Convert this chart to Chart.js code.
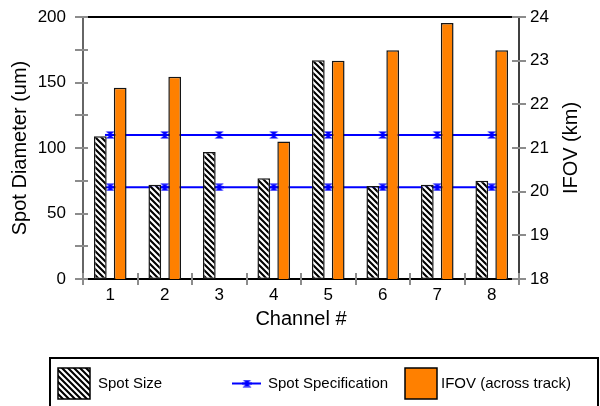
<!DOCTYPE html>
<html>
<head>
<meta charset="utf-8">
<script src="https://cdn.jsdelivr.net/npm/chart.js@4/dist/chart.umd.min.js"></script>
<style>
  html, body { margin: 0; padding: 0; background: #fff; }
  #c { display: block; }
</style>
</head>
<body>
<canvas id="c" width="600" height="406"></canvas>
<script>
// Channel numbers on the x axis
const channels = ['1', '2', '3', '4', '5', '6', '7', '8'];
// Measured spot diameter per channel (um, left axis)
const spotSize = [109, 72, 97, 77, 167, 71, 72, 75];
// Across-track IFOV per channel (km, right axis); channel 3 has no value
const ifov = [22.38, 22.63, null, 21.15, 23.0, 23.24, 23.86, 23.24];
// Spot specification limits (um)
const specUpper = [110, 110, 110, 110, 110, 110, 110, 110];
const specLower = [70, 70, 70, 70, 70, 70, 70, 70];
// Axis ranges
const diameterRange = [0, 200];
const ifovRange = [18, 24];

const FONT = '"Liberation Sans", Arial, sans-serif';
const BLUE = '#0000ff';
const ORANGE = '#ff8000';

// Diagonal black/white hatch used for the spot size bars
function makeHatch() {
  const s = 6;
  const c = document.createElement('canvas');
  c.width = s; c.height = s;
  const g = c.getContext('2d');
  g.fillStyle = '#fff';
  g.fillRect(0, 0, s, s);
  g.strokeStyle = '#000';
  g.lineWidth = 2.1;
  g.beginPath();
  for (const o of [-s, 0, s]) {
    g.moveTo(o - 1, -1);
    g.lineTo(o + s + 1, s + 1);
  }
  g.stroke();
  return g.createPattern(c, 'repeat');
}

// Hourglass marker for the specification lines
function makeBowtie() {
  const c = document.createElement('canvas');
  c.width = 10; c.height = 8;
  const g = c.getContext('2d');
  g.fillStyle = BLUE;
  g.beginPath(); g.moveTo(0.5, 0.5); g.lineTo(9.5, 0.5); g.lineTo(5, 4); g.closePath(); g.fill();
  g.beginPath(); g.moveTo(0.5, 7.5); g.lineTo(9.5, 7.5); g.lineTo(5, 4); g.closePath(); g.fill();
  g.fillRect(0, 3, 10, 2);
  return c;
}

const hatch = makeHatch();
const bowtie = makeBowtie();

const barCommon = {
  type: 'bar',
  borderColor: '#151515',
  borderWidth: 1.5,
  borderSkipped: false,
  categoryPercentage: 0.73,
  barPercentage: 0.64,
  order: 1
};
const lineCommon = {
  type: 'line',
  yAxisID: 'y',
  borderColor: BLUE,
  backgroundColor: BLUE,
  borderWidth: 2,
  tension: 0,
  fill: false,
  pointStyle: bowtie,
  pointRadius: 5,
  order: 2
};

// Axis lines, crossing tick marks, right axis title and the boxed legend
const decorations = {
  id: 'decorations',
  beforeDatasetsDraw(chart) {
    const { ctx, chartArea: a } = chart;
    ctx.save();
    ctx.lineCap = 'butt';
    ctx.strokeStyle = '#333';
    ctx.lineWidth = 1.5;
    ctx.beginPath(); ctx.moveTo(a.left, a.top); ctx.lineTo(a.left, a.bottom); ctx.stroke();
    ctx.strokeStyle = '#000';
    ctx.beginPath(); ctx.moveTo(a.right, a.top); ctx.lineTo(a.right, a.bottom); ctx.stroke();
    ctx.lineWidth = 2;
    ctx.beginPath(); ctx.moveTo(a.left, a.top); ctx.lineTo(a.right - 7, a.top); ctx.stroke();
    ctx.beginPath(); ctx.moveTo(a.left, a.bottom); ctx.lineTo(a.right, a.bottom); ctx.stroke();
    ctx.restore();
  },
  afterDraw(chart) {
    const { ctx, chartArea: a, scales } = chart;
    ctx.save();
    ctx.strokeStyle = '#8c8c8c';
    ctx.lineWidth = 2;
    // left axis ticks
    scales.y.ticks.forEach(t => {
      const py = Math.round(scales.y.getPixelForValue(t.value));
      ctx.beginPath(); ctx.moveTo(a.left - 8, py); ctx.lineTo(a.left + 5, py); ctx.stroke();
    });
    // right axis ticks
    scales.y1.ticks.forEach(t => {
      const py = Math.round(scales.y1.getPixelForValue(t.value));
      ctx.beginPath(); ctx.moveTo(a.right - 7, py); ctx.lineTo(a.right + 7, py); ctx.stroke();
    });
    // x axis ticks at category boundaries
    const xs = scales.x;
    const n = chart.data.labels.length;
    for (let i = 0; i <= n; i++) {
      let px;
      if (i === 0) px = a.left;
      else if (i === n) px = a.right;
      else px = (xs.getPixelForValue(i - 1) + xs.getPixelForValue(i)) / 2;
      px = Math.round(px);
      ctx.beginPath(); ctx.moveTo(px, a.bottom - 6); ctx.lineTo(px, a.bottom + 6); ctx.stroke();
    }

    // right axis title, reading bottom to top
    ctx.fillStyle = '#000';
    ctx.font = '20px ' + FONT;
    ctx.textAlign = 'center';
    ctx.textBaseline = 'middle';
    ctx.translate(571, (a.top + a.bottom) / 2);
    ctx.rotate(-Math.PI / 2);
    ctx.fillText('IFOV (km)', 0, 0);
    ctx.restore();

    // legend box
    ctx.save();
    const ds = chart.data.datasets;
    ctx.strokeStyle = '#000';
    ctx.lineWidth = 2;
    ctx.strokeRect(50, 358, 548, 60);
    ctx.font = '15px ' + FONT;
    ctx.fillStyle = '#000';
    ctx.textAlign = 'left';
    ctx.textBaseline = 'middle';
    const cy = 383.5;
    // spot size swatch
    ctx.fillStyle = hatch;
    ctx.fillRect(58, 368, 32, 31);
    ctx.lineWidth = 1.5;
    ctx.strokeStyle = '#000';
    ctx.strokeRect(58, 368, 32, 31);
    ctx.fillStyle = '#000';
    ctx.fillText(ds[0].label, 98, cy);
    // specification line sample
    ctx.strokeStyle = BLUE;
    ctx.lineWidth = 2;
    ctx.beginPath(); ctx.moveTo(232, cy); ctx.lineTo(261, cy); ctx.stroke();
    ctx.drawImage(bowtie, 247 - 5, cy - 4);
    ctx.fillText(ds[1].label, 268, cy);
    // IFOV swatch
    ctx.fillStyle = ORANGE;
    ctx.fillRect(405, 368, 32, 31);
    ctx.strokeStyle = '#000';
    ctx.lineWidth = 1.5;
    ctx.strokeRect(405, 368, 32, 31);
    ctx.fillStyle = '#000';
    ctx.fillText(ds[3].label, 441, cy);
    ctx.restore();
  }
};

new Chart(document.getElementById('c'), {
  data: {
    labels: channels,
    datasets: [
      Object.assign({}, barCommon, { label: 'Spot Size', data: spotSize, yAxisID: 'y', backgroundColor: hatch }),
      Object.assign({}, lineCommon, { label: 'Spot Specification', data: specUpper }),
      Object.assign({}, lineCommon, { label: 'Spot Specification', data: specLower }),
      Object.assign({}, barCommon, { label: 'IFOV (across track)', data: ifov, yAxisID: 'y1', backgroundColor: ORANGE })
    ]
  },
  options: {
    responsive: false,
    animation: false,
    devicePixelRatio: 1,
    layout: { padding: { top: 17, bottom: 75, left: 0, right: 0 } },
    plugins: { legend: { display: false }, tooltip: { enabled: false } },
    scales: {
      x: {
        type: 'category',
        offset: true,
        grid: { display: false, drawTicks: true, tickLength: 6 },
        border: { display: false },
        ticks: { color: '#000', font: { family: FONT, size: 17 }, padding: 0 },
        title: { display: true, text: 'Channel #', color: '#000', font: { family: FONT, size: 20 }, padding: 0 },
        afterFit(s) { s.height = 52; }
      },
      y: {
        position: 'left',
        min: diameterRange[0],
        max: diameterRange[1],
        grid: { display: false, drawTicks: true, tickLength: 17 },
        border: { display: false },
        ticks: {
          stepSize: 25,
          color: '#000',
          font: { family: FONT, size: 17 },
          padding: 0,
          callback: v => (v % 50 === 0 ? String(v) : '')
        },
        title: { display: true, text: 'Spot Diameter (um)', color: '#000', font: { family: FONT, size: 20 }, padding: { top: 8 } },
        afterFit(s) { s.width = 83; }
      },
      y1: {
        position: 'right',
        min: ifovRange[0],
        max: ifovRange[1],
        grid: { display: false, drawTicks: true, tickLength: 11 },
        border: { display: false },
        ticks: { stepSize: 1, color: '#000', font: { family: FONT, size: 17 }, padding: 0 },
        afterFit(s) { s.width = 81; }
      }
    }
  },
  plugins: [decorations]
});
</script>
</body>
</html>
